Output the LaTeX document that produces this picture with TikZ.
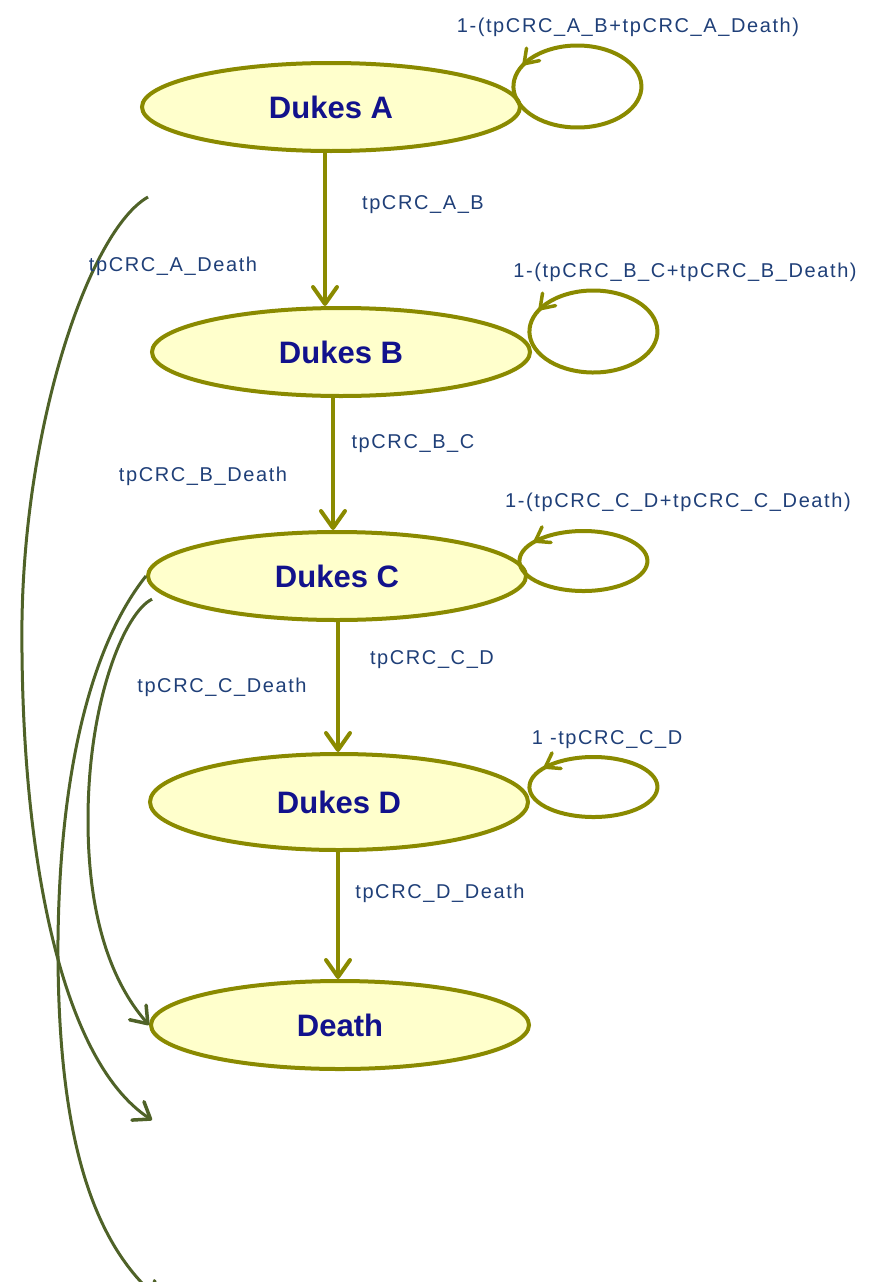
\documentclass[tikz,border=0pt]{standalone}
\usepackage{fontspec}
\setmainfont{Liberation Sans}
\usetikzlibrary{shapes.geometric,arrows.meta,decorations.markings}
\definecolor{olivebrd}{HTML}{8A8A00}
\definecolor{paleyel}{HTML}{FFFFCC}
\definecolor{navytxt}{HTML}{12128C}
\definecolor{lbltxt}{HTML}{1F3F78}
\definecolor{deathln}{HTML}{4F6228}
\begin{document}
\begin{tikzpicture}[x=1pt,y=-1pt,
  state/.style={ellipse,draw=olivebrd,fill=paleyel,line width=4pt,minimum width=378pt,minimum height=88pt,inner sep=0pt,text=navytxt,font=\fontsize{31}{36}\selectfont\bfseries},
  prob/.style={text=lbltxt,inner sep=0pt,font=\fontsize{20}{24}\selectfont\addfontfeature{LetterSpace=8}},
  flow/.style={draw=olivebrd,line width=4pt,-{Straight Barb[length=17pt,width=24pt,line width=4pt,round]}},
  stay/.style={draw=olivebrd,line width=4pt,postaction={decorate},decoration={markings,mark=at position 0.86 with {\arrow{Straight Barb[length=13pt,width=18pt,line width=3.5pt,round]}}}},
  exit/.style={draw=deathln,line width=3pt,-{Straight Barb[length=15pt,width=22pt,line width=3.5pt,round]}}]
\useasboundingbox (0,0) rectangle (875,1282);
\coordinate (aFrom) at (148,197);
\coordinate (aTo) at (152,1120);
\coordinate (cTo) at (160,1300);
\draw[exit] (aFrom) .. controls (90,230) and (25,420) .. (22,620) .. controls (20,850) and (60,1060) .. (aTo);
\node[state] (dA) at (331,107) {Dukes A};
\node[state] (dB) at (341,352) {Dukes B};
\node[state] (dC) at (337,576) {Dukes C};
\node[state,minimum height=96pt] (dD) at (339,802) {Dukes D};
\node[state] (death) at (340,1025) {Death};
\draw[stay] (dA.east) arc[start angle=150,end angle=-210,x radius=64,y radius=41];
\draw[stay] ([xshift=6pt]dB.east) arc[start angle=150,end angle=-210,x radius=64,y radius=41];
\draw[stay] (dC.east) arc[start angle=150,end angle=-210,x radius=64,y radius=30];
\draw[stay] ([xshift=8pt]dD.east) arc[start angle=150,end angle=-210,x radius=64,y radius=30];
\draw[flow] ([xshift=-6pt]dA.south) -- ([xshift=-16pt]dB.north);
\draw[flow] ([xshift=-8pt]dB.south) -- ([xshift=-4pt]dC.north);
\draw[flow] ([xshift=1pt]dC.south) -- ([xshift=-1pt]dD.north);
\draw[flow] ([xshift=-1pt]dD.south) -- ([xshift=-2pt]death.north);
\draw[exit] (dC.west) .. controls (95,640) and (60,760) .. (58,940) .. controls (57,1130) and (90,1240) .. (cTo);
\draw[exit] ([xshift=-20pt]dC.188) .. controls (125,612) and (88,700) .. (88,820) .. controls (88,930) and (118,990) .. (death.west);
\node[prob] (pAA) at (628,27) {1-(tpCRC\_A\_B+tpCRC\_A\_Death)};
\node[prob] (pAB) at (423,205) {tpCRC\_A\_B};
\node[prob] (pAX) at (173,266) {tpCRC\_A\_Death};
\node[prob] (pBB) at (685,272) {1-(tpCRC\_B\_C+tpCRC\_B\_Death)};
\node[prob] (pBC) at (413,444) {tpCRC\_B\_C};
\node[prob] (pBX) at (203,476) {tpCRC\_B\_Death};
\node[prob] (pCC) at (678,502) {1-(tpCRC\_C\_D+tpCRC\_C\_Death)};
\node[prob] (pCD) at (432,660) {tpCRC\_C\_D};
\node[prob] (pCX) at (222,687) {tpCRC\_C\_Death};
\node[prob] (pDD) at (607,740) {1 -tpCRC\_C\_D};
\node[prob] (pDX) at (440,893) {tpCRC\_D\_Death};
\end{tikzpicture}
\end{document}
